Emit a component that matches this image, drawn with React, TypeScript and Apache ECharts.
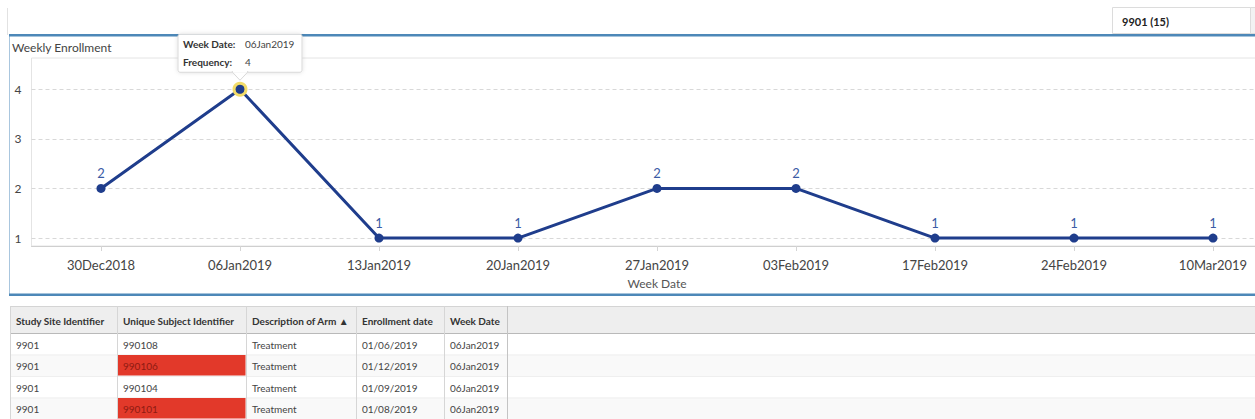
import React, { useEffect, useRef } from "react";
import * as echarts from "echarts";

const weekDates = ["30Dec2018", "06Jan2019", "13Jan2019", "20Jan2019", "27Jan2019", "03Feb2019", "17Feb2019", "24Feb2019", "10Mar2019"];
const frequency = [2, 4, 1, 1, 2, 2, 1, 1, 1];
const yTicks = [1, 2, 3, 4];
const highlightIndex = 1;

const tableHeaders = ["Study Site Identifier", "Unique Subject Identifier", "Description of Arm \u25B2", "Enrollment date", "Week Date"];
const siteIds = ["9901", "9901", "9901", "9901"];
const subjectIds = ["990108", "990106", "990104", "990101"];
const arms = ["Treatment", "Treatment", "Treatment", "Treatment"];
const enrollDates = ["01/06/2019", "01/12/2019", "01/09/2019", "01/08/2019"];
const rowWeekDates = ["06Jan2019", "06Jan2019", "06Jan2019", "06Jan2019"];
const flaggedSubject = [false, true, false, true];
const siteFilter = "9901 (15)";
const panelTitle = "Weekly Enrollment";

const FONT = "Lato, 'Open Sans', sans-serif";
const VIEW_W = 1255;
const CHART_W = 1284;

export default function App() {
  const ref = useRef<HTMLDivElement>(null);
  useEffect(() => {
    document.body.style.margin = "0";
    const el = ref.current!;
    const chart = echarts.init(el, null, { renderer: "svg", width: CHART_W, height: 419 });
    const option: any = {
      animation: false,
      backgroundColor: "#ffffff",
      textStyle: { fontFamily: FONT },
      grid: {
        left: 31.5,
        right: 1.5,
        top: 58,
        bottom: 173,
        show: true,
        borderColor: "#e4e4e4",
        borderWidth: 1,
        backgroundColor: "transparent",
      },
      xAxis: {
        type: "category",
        data: weekDates,
        boundaryGap: true,
        name: "Week Date",
        nameLocation: "middle",
        nameGap: 31,
        nameTextStyle: { color: "#555", fontSize: 12, fontFamily: FONT },
        axisLine: { lineStyle: { color: "#cfcfcf", width: 1 } },
        axisTick: { show: true, alignWithLabel: true, length: 5, lineStyle: { color: "#d5d5d5" } },
        axisLabel: { color: "#444", fontSize: 13, margin: 12, fontFamily: FONT, interval: 0 },
        splitLine: { show: false },
      },
      yAxis: {
        type: "value",
        min: 0.84,
        max: 4.63,
        axisLine: { show: false },
        axisTick: { show: false, customValues: yTicks },
        axisLabel: { color: "#444", fontSize: 12, margin: 10, fontFamily: FONT, customValues: yTicks },
        splitLine: { show: true, lineStyle: { color: "#d8d8d8", type: [4, 3], width: 1 } },
      },
      series: [
        {
          type: "line",
          data: frequency.map((v, i) =>
            i === highlightIndex
              ? { value: v, symbolSize: 12, label: { show: false }, itemStyle: { color: "#1f3d8c", borderColor: "#f2dc6a", borderWidth: 3 } }
              : v
          ),
          symbol: "circle",
          symbolSize: 9,
          lineStyle: { color: "#1f3d8c", width: 3 },
          itemStyle: { color: "#1f3d8c" },
          label: { show: true, position: "top", distance: 4, color: "#3b5ba5", fontSize: 13, fontFamily: FONT },
          z: 5,
        },
      ],
    };
    chart.setOption(option);

    const pt = chart.convertToPixel({ seriesIndex: 0 }, [highlightIndex, frequency[highlightIndex]]) as number[];
    const px = pt[0];
    const py = pt[1];

    const g: any[] = [];
    g.push({ type: "line", shape: { x1: 7.5, y1: 8, x2: 7.5, y2: 35 }, style: { stroke: "#e2e2e2", lineWidth: 1 } });
    g.push({ type: "rect", shape: { x: 1112.5, y: 7.5, width: 138, height: 26 }, style: { fill: "#fff", stroke: "#dcdcdc", lineWidth: 1 } });
    g.push({ type: "rect", shape: { x: 1250.5, y: 7.5, width: 10, height: 26 }, style: { fill: "#f2f2f2", stroke: "#dcdcdc", lineWidth: 1 } });
    g.push({ type: "text", style: { text: siteFilter, x: 1122, y: 21, font: `bold 11px ${FONT}`, fill: "#222", textVerticalAlign: "middle", verticalAlign: "middle" } });
    g.push({ type: "line", shape: { x1: 9.5, y1: 36, x2: 9.5, y2: 294 }, style: { stroke: "#a9c6de", lineWidth: 1 } });
    g.push({ type: "rect", shape: { x: 9, y: 34, width: VIEW_W - 9, height: 2.5 }, style: { fill: "#4d88b8" } });
    g.push({ type: "rect", shape: { x: 9, y: 293.5, width: VIEW_W - 9, height: 2.5 }, style: { fill: "#4d88b8" } });
    g.push({ type: "text", style: { text: panelTitle, x: 12, y: 47, font: `12px ${FONT}`, fill: "#444", textVerticalAlign: "middle", verticalAlign: "middle" } });

    const colX = [10, 117, 246, 356, 444, 507];
    const tableTop = 306;
    const headerH = 27;
    const rowH = 21.5;
    g.push({ type: "rect", shape: { x: 10, y: tableTop, width: VIEW_W - 10, height: headerH }, style: { fill: "#eeeeee" } });
    for (let r = 0; r < subjectIds.length; r++) {
      const y = tableTop + headerH + r * rowH;
      g.push({ type: "rect", shape: { x: 10, y, width: VIEW_W - 10, height: rowH }, style: { fill: r % 2 === 0 ? "#ffffff" : "#f9f9f9" } });
    }
    g.push({ type: "line", shape: { x1: 10, y1: tableTop + 0.5, x2: VIEW_W, y2: tableTop + 0.5 }, style: { stroke: "#d4d4d4", lineWidth: 1 } });
    g.push({ type: "line", shape: { x1: 10, y1: tableTop + headerH + 0.5, x2: VIEW_W, y2: tableTop + headerH + 0.5 }, style: { stroke: "#b9b9b9", lineWidth: 1 } });
    const rowsCols = [siteIds, subjectIds, arms, enrollDates, rowWeekDates];
    for (let r = 0; r < subjectIds.length; r++) {
      const y = tableTop + headerH + r * rowH;
      if (flaggedSubject[r]) {
        g.push({ type: "rect", shape: { x: colX[1] + 0.5, y: y + 0.5, width: colX[2] - colX[1] - 1, height: rowH - 1 }, style: { fill: "#e2392a" } });
      }
      for (let c = 0; c < rowsCols.length; c++) {
        const red = c === 1 && flaggedSubject[r];
        g.push({
          type: "text",
          style: { text: rowsCols[c][r], x: colX[c] + 6, y: y + rowH / 2 + 1, font: `10px ${FONT}`, fill: red ? "#8e1b12" : "#444", textVerticalAlign: "middle", verticalAlign: "middle" },
        });
      }
      g.push({ type: "line", shape: { x1: 10, y1: y + rowH + 0.5, x2: VIEW_W, y2: y + rowH + 0.5 }, style: { stroke: "#efefef", lineWidth: 1 } });
    }
    for (let c = 0; c < colX.length; c++) {
      g.push({ type: "line", shape: { x1: colX[c] + 0.5, y1: tableTop, x2: colX[c] + 0.5, y2: 419 }, style: { stroke: c === colX.length - 1 ? "#c4c4c4" : "#d6d6d6", lineWidth: 1 } });
    }
    for (let c = 0; c < tableHeaders.length; c++) {
      g.push({ type: "text", style: { text: tableHeaders[c], x: colX[c] + 6, y: tableTop + headerH / 2 + 1, font: `bold 10px ${FONT}`, fill: "#333", textVerticalAlign: "middle", verticalAlign: "middle" } });
    }

    const tw = 124;
    const th = 38;
    const tx = px - tw / 2;
    const tyBottom = py - 17;
    const ty = tyBottom - th;
    g.push({
      type: "group",
      z: 100,
      children: [
        { type: "rect", shape: { x: tx, y: ty, width: tw, height: th, r: 2 }, style: { fill: "#fff", stroke: "#d9d9d9", lineWidth: 1, shadowBlur: 4, shadowColor: "rgba(0,0,0,0.12)" } },
        { type: "polygon", shape: { points: [[px - 8, tyBottom - 0.5], [px, tyBottom + 8], [px + 8, tyBottom - 0.5]] }, style: { fill: "#fff", stroke: "#d9d9d9", lineWidth: 1 } },
        { type: "rect", shape: { x: px - 7, y: tyBottom - 2, width: 14, height: 2 }, style: { fill: "#fff" } },
        { type: "text", style: { text: "Week Date:", x: tx + 5, y: ty + 10, font: `bold 10px ${FONT}`, fill: "#333", textVerticalAlign: "middle", verticalAlign: "middle" } },
        { type: "text", style: { text: weekDates[highlightIndex], x: tx + 67, y: ty + 10, font: `10px ${FONT}`, fill: "#444", textVerticalAlign: "middle", verticalAlign: "middle" } },
        { type: "text", style: { text: "Frequency:", x: tx + 5, y: ty + 28, font: `bold 10px ${FONT}`, fill: "#333", textVerticalAlign: "middle", verticalAlign: "middle" } },
        { type: "text", style: { text: String(frequency[highlightIndex]), x: tx + 67, y: ty + 28, font: `10px ${FONT}`, fill: "#444", textVerticalAlign: "middle", verticalAlign: "middle" } },
      ],
    });

    chart.setOption({ graphic: g });
    return () => chart.dispose();
  }, []);
  return (
    <div style={{ position: "fixed", left: 0, top: 0, width: VIEW_W, height: 419, overflow: "hidden" }}>
      <div ref={ref} style={{ width: CHART_W, height: 419 }} />
    </div>
  );
}
